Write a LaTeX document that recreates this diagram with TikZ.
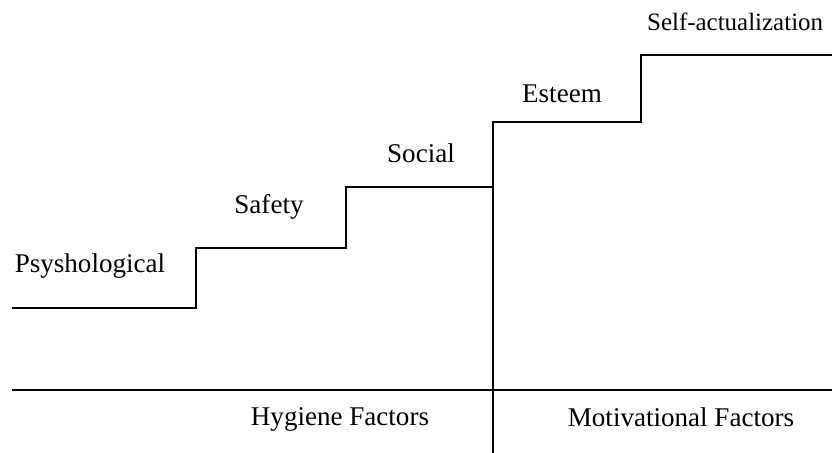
\documentclass[tikz,border=0pt]{standalone}
\usepackage{fontspec}
\setmainfont{Liberation Serif}
\begin{document}
\begin{tikzpicture}[x=0.02cm,y=-0.02cm,line width=1.3pt,
	lab/.style={font=\fontsize{15.4}{18}\selectfont,inner sep=0pt}]
		\useasboundingbox (0,0) rectangle (832,453);
		\coordinate (s0) at (12,308);
		\coordinate (s1) at (196,308);
		\coordinate (s2) at (196,248);
		\coordinate (s3) at (346,248);
		\coordinate (s4) at (346,187);
		\coordinate (s5) at (493,187);
		\coordinate (s6) at (493,122);
		\coordinate (s7) at (641,122);
		\coordinate (s8) at (641,55);
		\coordinate (s9) at (832,55);
		\coordinate (b0) at (12,390);
		\coordinate (b1) at (832,390);
		\coordinate (v0) at (493,453);
		\draw (s0) to (s1) to (s2) to (s3) to (s4) to (s5) to (s6) to (s7) to (s8) to (s9);
		\draw (b0) to (b1);
		\draw (v0) to (s5);
		\node[lab] (phys) at (90,266) {Psyshological};
		\node[lab] (safe) at (269,207) {Safety};
		\node[lab] (soc) at (421,153) {Social};
		\node[lab] (est) at (562,94) {Esteem};
		\node[lab,anchor=west,font=\fontsize{14.2}{17}\selectfont] (self) at (646,22) {Self-actualization};
		\node[lab] (hyg) at (340,419) {Hygiene Factors};
		\node[lab] (mot) at (681,417) {Motivational Factors};
		\end{tikzpicture}
\end{document}
